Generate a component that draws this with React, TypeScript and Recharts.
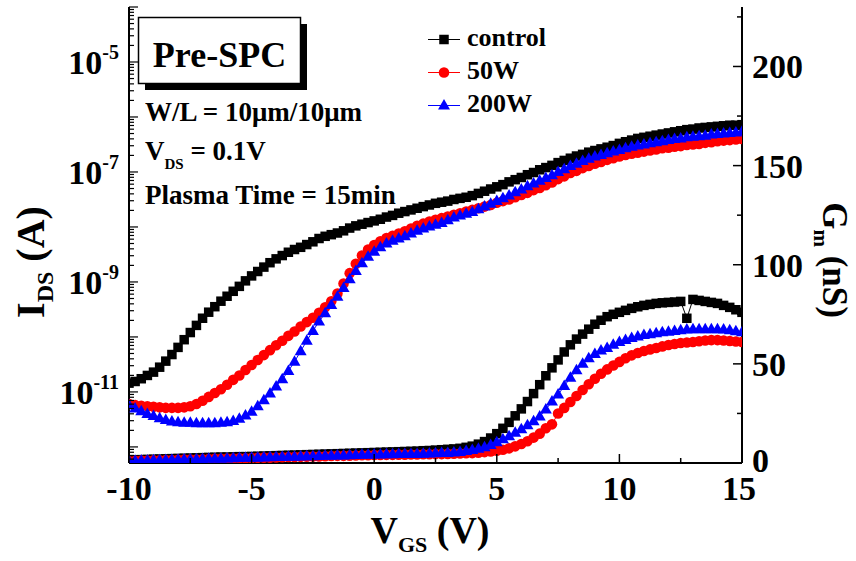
import React from 'react';
import { ComposedChart, Line, XAxis, YAxis, Legend } from 'recharts';

const FONT = "'Liberation Serif', 'Times New Roman', Times, serif";

// gate voltage sweep (V)
const vgs = [
  -10, -9.75, -9.5, -9.25, -9, -8.75, -8.5, -8.25, -8, -7.75, -7.5, -7.25,
  -7, -6.75, -6.5, -6.25, -6, -5.75, -5.5, -5.25, -5, -4.75, -4.5, -4.25,
  -4, -3.75, -3.5, -3.25, -3, -2.75, -2.5, -2.25, -2, -1.75, -1.5, -1.25,
  -1, -0.75, -0.5, -0.25, 0, 0.25, 0.5, 0.75, 1, 1.25, 1.5, 1.75,
  2, 2.25, 2.5, 2.75, 3, 3.25, 3.5, 3.75, 4, 4.25, 4.5, 4.75,
  5, 5.25, 5.5, 5.75, 6, 6.25, 6.5, 6.75, 7, 7.25, 7.5, 7.75,
  8, 8.25, 8.5, 8.75, 9, 9.25, 9.5, 9.75, 10, 10.25, 10.5, 10.75,
  11, 11.25, 11.5, 11.75, 12, 12.25, 12.5, 12.75, 13, 13.25, 13.5, 13.75,
  14, 14.25, 14.5, 14.75, 15,
];

// log10 of I_DS (A)
const idsControl = [
  -10.84, -10.81, -10.76, -10.70, -10.64, -10.55, -10.44, -10.32, -10.19, -10.05, -9.92, -9.79,
  -9.66, -9.55, -9.45, -9.35, -9.26, -9.17, -9.08, -8.98, -8.89, -8.81, -8.73, -8.65,
  -8.58, -8.52, -8.46, -8.41, -8.37, -8.32, -8.27, -8.21, -8.17, -8.14, -8.11, -8.07,
  -8.02, -7.98, -7.95, -7.92, -7.89, -7.86, -7.82, -7.79, -7.75, -7.72, -7.69, -7.66,
  -7.63, -7.60, -7.57, -7.55, -7.53, -7.50, -7.48, -7.46, -7.43, -7.39, -7.35, -7.31,
  -7.27, -7.23, -7.18, -7.14, -7.10, -7.05, -7.01, -6.96, -6.92, -6.88, -6.83, -6.79,
  -6.75, -6.71, -6.68, -6.64, -6.61, -6.58, -6.55, -6.52, -6.48, -6.45, -6.42, -6.39,
  -6.37, -6.35, -6.33, -6.31, -6.29, -6.27, -6.25, -6.23, -6.22, -6.20, -6.19, -6.18,
  -6.17, -6.16, -6.15, -6.15, -6.14,
];
const ids50W = [
  -11.22, -11.24, -11.25, -11.26, -11.27, -11.28, -11.29, -11.29, -11.29, -11.28, -11.26, -11.22,
  -11.16, -11.09, -11.02, -10.95, -10.87, -10.78, -10.70, -10.60, -10.51, -10.42, -10.33, -10.24,
  -10.15, -10.07, -9.98, -9.90, -9.81, -9.73, -9.65, -9.56, -9.46, -9.35, -9.21, -9.03,
  -8.84, -8.67, -8.52, -8.41, -8.33, -8.26, -8.20, -8.16, -8.12, -8.08, -8.03, -7.98,
  -7.94, -7.90, -7.87, -7.84, -7.81, -7.78, -7.75, -7.72, -7.69, -7.66, -7.63, -7.60,
  -7.56, -7.53, -7.50, -7.46, -7.42, -7.38, -7.33, -7.29, -7.24, -7.19, -7.13, -7.08,
  -7.02, -6.98, -6.93, -6.89, -6.85, -6.82, -6.78, -6.75, -6.72, -6.69, -6.67, -6.65,
  -6.63, -6.61, -6.59, -6.57, -6.56, -6.54, -6.53, -6.51, -6.50, -6.49, -6.47, -6.46,
  -6.44, -6.43, -6.42, -6.41, -6.40,
];
const ids200W = [
  -11.24, -11.30, -11.35, -11.40, -11.44, -11.48, -11.51, -11.54, -11.55, -11.56, -11.56, -11.57,
  -11.57, -11.57, -11.57, -11.56, -11.55, -11.53, -11.49, -11.43, -11.36, -11.26, -11.15, -11.03,
  -10.90, -10.77, -10.62, -10.45, -10.26, -10.07, -9.89, -9.72, -9.57, -9.42, -9.27, -9.11,
  -8.95, -8.80, -8.66, -8.54, -8.45, -8.37, -8.30, -8.25, -8.21, -8.17, -8.12, -8.07,
  -8.03, -7.99, -7.96, -7.93, -7.88, -7.83, -7.79, -7.76, -7.73, -7.68, -7.63, -7.58,
  -7.53, -7.48, -7.43, -7.37, -7.32, -7.26, -7.21, -7.16, -7.11, -7.06, -7.00, -6.95,
  -6.89, -6.85, -6.80, -6.76, -6.72, -6.69, -6.66, -6.63, -6.60, -6.57, -6.54, -6.52,
  -6.50, -6.48, -6.46, -6.44, -6.42, -6.40, -6.39, -6.37, -6.36, -6.35, -6.34, -6.32,
  -6.31, -6.30, -6.29, -6.28, -6.27,
];

// transconductance Gm (nS)
const gmControl = [
  1.5, 1.6, 1.7, 1.8, 1.9, 2.0, 2.1, 2.2, 2.3, 2.4, 2.5, 2.6,
  2.7, 2.8, 2.9, 3.0, 3.0, 3.1, 3.2, 3.2, 3.3, 3.4, 3.5, 3.6,
  3.7, 3.8, 3.9, 4.0, 4.1, 4.2, 4.3, 4.4, 4.5, 4.6, 4.7, 4.8,
  4.9, 5.0, 5.1, 5.2, 5.3, 5.4, 5.5, 5.6, 5.7, 5.8, 5.9, 6.0,
  6.2, 6.3, 6.5, 6.7, 6.9, 7.1, 7.4, 7.9, 8.5, 9.5, 10.8, 12.6,
  14.8, 17.5, 20.5, 23.8, 27.3, 31.0, 35.0, 39.5, 44.0, 48.0, 52.0, 56.0,
  59.6, 62.5, 65.0, 67.5, 70.0, 72.0, 73.8, 75.0, 76.0, 77.0, 78.0, 78.8,
  79.5, 80.0, 80.5, 80.8, 81.0, 81.2, 81.5, 73.0, 82.5, 82.0, 81.5, 81.0,
  80.5, 79.5, 78.5, 77.3, 76.0,
];
const gm50W = [
  1.0, 1.1, 1.2, 1.2, 1.3, 1.4, 1.5, 1.5, 1.6, 1.7, 1.8, 1.8,
  1.9, 2.0, 2.1, 2.1, 2.2, 2.3, 2.4, 2.4, 2.5, 2.6, 2.7, 2.7,
  2.8, 2.9, 3.0, 3.0, 3.1, 3.2, 3.3, 3.3, 3.4, 3.5, 3.6, 3.6,
  3.7, 3.8, 3.9, 3.9, 4.0, 4.0, 4.1, 4.1, 4.2, 4.2, 4.3, 4.3,
  4.4, 4.4, 4.5, 4.5, 4.6, 4.7, 4.8, 4.9, 5.0, 5.2, 5.5, 5.8,
  6.2, 6.7, 7.4, 8.4, 9.6, 11.0, 12.8, 14.8, 17.5, 19.5, 25.0, 27.8,
  30.8, 33.8, 36.8, 39.7, 42.5, 45.0, 47.2, 49.2, 51.0, 52.8, 54.3, 55.5,
  56.5, 57.3, 58.0, 58.8, 59.5, 60.0, 60.5, 60.8, 61.0, 61.4, 61.8, 62.0,
  62.0, 61.8, 61.5, 61.3, 61.0,
];
const gm200W = [
  1.0, 1.1, 1.2, 1.3, 1.4, 1.4, 1.5, 1.6, 1.7, 1.8, 1.8, 1.9,
  2.0, 2.1, 2.2, 2.2, 2.3, 2.4, 2.5, 2.6, 2.6, 2.7, 2.8, 2.9,
  3.0, 3.0, 3.1, 3.2, 3.3, 3.4, 3.4, 3.5, 3.6, 3.7, 3.8, 3.8,
  3.9, 4.0, 4.1, 4.2, 4.3, 4.3, 4.4, 4.4, 4.5, 4.5, 4.6, 4.6,
  4.7, 4.8, 4.9, 5.0, 5.1, 5.3, 5.6, 6.0, 6.5, 7.2, 8.0, 9.1,
  10.5, 12.0, 13.5, 15.2, 17.0, 19.0, 21.0, 23.5, 27.0, 31.0, 34.5, 38.8,
  43.0, 46.8, 50.0, 52.8, 55.0, 56.7, 58.0, 59.6, 61.0, 62.0, 63.0, 63.8,
  64.5, 65.0, 65.5, 65.9, 66.2, 66.6, 67.0, 67.3, 67.5, 67.5, 67.5, 67.5,
  67.5, 67.3, 67.0, 66.5, 66.0,
];

const xTicks = [-10, -7.5, -5, -2.5, 0, 2.5, 5, 7.5, 10, 12.5, 15];
const gmTicks = [0, 25, 50, 75, 100, 125, 150, 175, 200, 225];
const idsLabelExps = [-5, -7, -9, -11];
const IDS_MIN = 5.1e-13;
const IDS_MAX = 1e-4;

const idsTicks: number[] = [];
for (let e = -13; e <= -4; e++) {
  for (let m = 1; m < 10; m++) {
    const v = m * Math.pow(10, e);
    if (v >= IDS_MIN && v <= IDS_MAX * 1.0001) idsTicks.push(v);
  }
}

const data = vgs.map((v, i) => ({
  v,
  idsC: Math.pow(10, idsControl[i]),
  ids50: Math.pow(10, ids50W[i]),
  ids200: Math.pow(10, ids200W[i]),
  gmC: gmControl[i],
  gm50: gm50W[i],
  gm200: gm200W[i],
}));

const BLACK = '#000000';
const RED = '#ff0000';
const BLUE = '#0000ff';

const marker = (kind: string, cx: number, cy: number, color: string, key?: any) => {
  if (kind === 'square') return <rect key={key} x={cx - 4.75} y={cy - 4.75} width={9.5} height={9.5} fill={color} />;
  if (kind === 'circle') return <circle key={key} cx={cx} cy={cy} r={5.3} fill={color} />;
  return (
    <polygon key={key} points={`${cx},${cy - 6.5} ${cx - 6},${cy + 4} ${cx + 6},${cy + 4}`} fill={color} />
  );
};

const dotOf = (kind: string, color: string) => (p: any) => {
  if (p.cx == null || p.cy == null) return <g key={p.index} />;
  return marker(kind, p.cx, p.cy, color, p.index);
};

const tickText = { fontFamily: FONT, fontWeight: 'bold' as const, fill: '#000' };

const BottomTick = ({ x, y, payload }: any) => {
  const v = payload.value;
  const major = v % 5 === 0;
  return (
    <g>
      <line x1={x} x2={x} y1={y} y2={y - (major ? 9 : 5)} stroke="#000" strokeWidth={1.5} />
      {major && (
        <text x={v === 15 ? x - 3 : x} y={y + 37} textAnchor="middle" fontSize={34} {...tickText}>
          {v}
        </text>
      )}
    </g>
  );
};

const TopTick = ({ x, y, payload }: any) => {
  const major = payload.value % 5 === 0;
  return <line x1={x} x2={x} y1={y} y2={y + (major ? 9 : 5)} stroke="#000" strokeWidth={1.5} />;
};

const LeftTick = ({ x, y, payload }: any) => {
  const lg = Math.log10(payload.value);
  const e = Math.round(lg);
  const major = Math.abs(lg - e) < 1e-6;
  return (
    <g>
      <line x1={x} x2={x + (major ? 9 : 5)} y1={y} y2={y} stroke="#000" strokeWidth={1.2} />
      {major && idsLabelExps.includes(e) && (
        <text x={x - 10} y={y + 12} textAnchor="end" fontSize={34} {...tickText}>
          10<tspan dy={-15} fontSize={20}>{e}</tspan>
        </text>
      )}
    </g>
  );
};

const RightTick = ({ x, y, payload }: any) => {
  const v = payload.value;
  const major = v % 50 === 0;
  return (
    <g>
      <line x1={x} x2={x - (major ? 9 : 5)} y1={y} y2={y} stroke="#000" strokeWidth={1.5} />
      {major && (
        <text x={x + 10} y={v === 0 ? y + 9 : y + 12} textAnchor="start" fontSize={34} {...tickText}>
          {v}
        </text>
      )}
    </g>
  );
};

const XTitle = () => (
  <text x={430} y={543} textAnchor="middle" fontSize={38} {...tickText}>
    V<tspan dy={9} fontSize={22}>GS</tspan>
    <tspan dy={-9} fontSize={38}> (V)</tspan>
  </text>
);

const IdsTitle = () => (
  <text transform="translate(44,262) rotate(-90)" textAnchor="middle" fontSize={40} {...tickText}>
    I<tspan dy={9} fontSize={24}>DS</tspan>
    <tspan dy={-9} fontSize={40}> (A)</tspan>
  </text>
);

const GmTitle = () => (
  <text transform="translate(823,260) rotate(90)" textAnchor="middle" fontSize={35} {...tickText}>
    G<tspan dy={9} fontSize={21}>m</tspan>
    <tspan dy={-9} fontSize={35}> (nS)</tspan>
  </text>
);

const legendItems = [
  { name: 'control', color: BLACK, kind: 'square' },
  { name: '50W', color: RED, kind: 'circle' },
  { name: '200W', color: BLUE, kind: 'triangle' },
];

const renderLegend = () => (
  <svg width={150} height={105}>
    {legendItems.map((it, i) => {
      const cy = 19.5 + i * 33;
      return (
        <g key={it.name}>
          <line x1={3} x2={35} y1={cy} y2={cy} stroke={it.color} strokeWidth={1} />
          {marker(it.kind, 19, cy, it.color)}
          <text x={42} y={cy + 6} fontSize={26} {...tickText}>
            {it.name}
          </text>
        </g>
      );
    })}
  </svg>
);

const Notes = () => (
  <svg width={856} height={561} style={{ position: 'absolute', left: 0, top: 0, pointerEvents: 'none' }}>
    <rect x={145} y={24} width={162} height={66} fill="#000" />
    <rect x={138.5} y={17.5} width={162} height={66} fill="#fff" stroke="#000" strokeWidth={1.5} />
    <text x={219.5} y={67} textAnchor="middle" fontSize={36} {...tickText}>Pre-SPC</text>
    <text x={145} y={121} fontSize={27} {...tickText}>W/L = 10μm/10μm</text>
    <text x={145} y={160} fontSize={27} {...tickText}>
      V<tspan dy={9} fontSize={15}>DS</tspan>
      <tspan dy={-9} fontSize={27}> = 0.1V</tspan>
    </text>
    <text x={145} y={204} fontSize={27} {...tickText}>Plasma Time = 15min</text>
  </svg>
);

export default function App() {
  return (
    <div style={{ position: 'absolute', left: 0, top: 0, width: 856, height: 561, background: '#fff' }}>
      <ComposedChart width={856} height={561} data={data} margin={{ top: 7, right: 0, bottom: 0, left: 0 }}>
        <XAxis
          xAxisId="b"
          dataKey="v"
          type="number"
          domain={[-10, 15]}
          ticks={xTicks}
          interval={0}
          allowDataOverflow
          height={98}
          tickSize={0}
          tickMargin={0}
          tickLine={false}
          tick={(p: any) => <BottomTick {...p} />}
          axisLine={{ stroke: '#000', strokeWidth: 2 }}
          label={() => <XTitle />}
        />
        <XAxis
          xAxisId="top"
          orientation="top"
          type="number"
          domain={[-10, 15]}
          ticks={xTicks}
          interval={0}
          allowDataOverflow
          height={0}
          tickSize={0}
          tickMargin={0}
          tickLine={false}
          tick={(p: any) => <TopTick {...p} />}
          axisLine={{ stroke: '#000', strokeWidth: 2 }}
        />
        <YAxis
          yAxisId="ids"
          orientation="left"
          type="number"
          scale="log"
          domain={[IDS_MIN, IDS_MAX]}
          ticks={idsTicks}
          interval={0}
          allowDataOverflow
          width={129}
          tickSize={0}
          tickMargin={0}
          tickLine={false}
          tick={(p: any) => <LeftTick {...p} />}
          axisLine={{ stroke: '#000', strokeWidth: 2 }}
          label={() => <IdsTitle />}
        />
        <YAxis
          yAxisId="gm"
          orientation="right"
          type="number"
          domain={[0, 230]}
          ticks={gmTicks}
          interval={0}
          allowDataOverflow
          width={114}
          tickSize={0}
          tickMargin={0}
          tickLine={false}
          tick={(p: any) => <RightTick {...p} />}
          axisLine={{ stroke: '#000', strokeWidth: 2 }}
          label={() => <GmTitle />}
        />
        <Legend
          content={renderLegend}
          layout="horizontal"
          verticalAlign="middle"
          align="center"
          wrapperStyle={{ left: 425, top: 20, width: 150, height: 105 }}
        />
        <Line xAxisId="b" yAxisId="gm" dataKey="gmC" name="control" stroke={BLACK} strokeWidth={1} dot={dotOf('square', BLACK)} activeDot={false} isAnimationActive={false} legendType="none" />
        <Line xAxisId="b" yAxisId="gm" dataKey="gm50" name="50W" stroke={RED} strokeWidth={1} dot={dotOf('circle', RED)} activeDot={false} isAnimationActive={false} legendType="none" />
        <Line xAxisId="b" yAxisId="gm" dataKey="gm200" name="200W" stroke={BLUE} strokeWidth={1} dot={dotOf('triangle', BLUE)} activeDot={false} isAnimationActive={false} legendType="none" />
        <Line xAxisId="b" yAxisId="ids" dataKey="idsC" name="control" stroke={BLACK} strokeWidth={1} dot={dotOf('square', BLACK)} activeDot={false} isAnimationActive={false} />
        <Line xAxisId="b" yAxisId="ids" dataKey="ids50" name="50W" stroke={RED} strokeWidth={1} dot={dotOf('circle', RED)} activeDot={false} isAnimationActive={false} />
        <Line xAxisId="b" yAxisId="ids" dataKey="ids200" name="200W" stroke={BLUE} strokeWidth={1} dot={dotOf('triangle', BLUE)} activeDot={false} isAnimationActive={false} />
      </ComposedChart>
      <Notes />
    </div>
  );
}
